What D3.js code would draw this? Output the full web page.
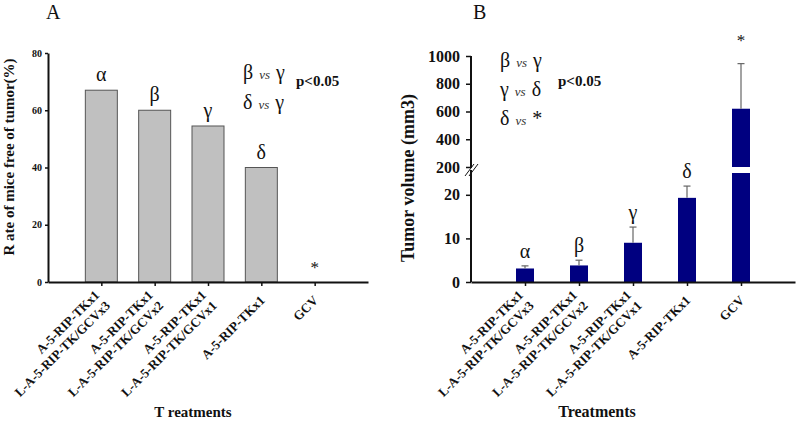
<!DOCTYPE html>
<html>
<head>
<meta charset="utf-8">
<script src="https://cdn.jsdelivr.net/npm/d3@7"></script>
<style>
  html, body { margin: 0; padding: 0; background: #fff; }
  svg { display: block; }
  text { font-family: "Liberation Serif", "Times New Roman", serif; fill: #111; }
</style>
</head>
<body>
<svg id="chart" width="800" height="426"></svg>
<script>
// ---- data ----
const categories = [
  "A-5-RIP-TKx1\nL-A-5-RIP-TK/GCVx3",
  "A-5-RIP-TKx1\nL-A-5-RIP-TK/GCVx2",
  "A-5-RIP-TKx1\nL-A-5-RIP-TK/GCVx1",
  "A-5-RIP-TKx1",
  "GCV"
];
const rateFree = [67, 60, 54.5, 40, 0];
const volume = [3.1, 3.8, 9.0, 19.3, 620];
const volumeErr = [0.6, 1.2, 3.6, 2.7, 325];
const sigLabels = ["α", "β", "γ", "δ", "*"];
const ticksA = [0, 20, 40, 60, 80];
const ticksBLow = [0, 10, 20];
const ticksBHigh = [200, 400, 600, 800, 1000];
const compA = [["β", "γ"], ["δ", "γ"]];
const compB = [["β", "γ"], ["γ", "δ"], ["δ", "*"]];
const pText = "p<0.05";

const svg = d3.select("#chart");

function styleAxis(g, fs) {
  g.attr("font-family", null).attr("font-size", null);
  g.select(".domain").attr("stroke", "#111").attr("stroke-width", 2);
  g.selectAll(".tick line").attr("stroke", "#111").attr("stroke-width", 1.5);
  g.selectAll(".tick text").style("font-family", "'Liberation Serif', serif").style("font-weight", "bold")
    .style("font-size", fs + "px").attr("fill", "#111");
}

function catLabels(g, x, oy) {
  categories.forEach(c => {
    const lines = c.split("\n");
    const t = g.append("g").attr("transform", `translate(${x(c) + 1},${oy}) rotate(-45)`);
    lines.forEach((ln, i) => {
      t.append("text").attr("x", 0).attr("y", (i - (lines.length - 1) / 2) * 15 + 4.5)
        .attr("text-anchor", "end").attr("font-weight", "bold").attr("font-size", 13)
        .text(ln);
    });
  });
}

function comparisons(g, list, x0, y0, dy, fs) {
  list.forEach((pair, i) => {
    const t = g.append("text").attr("x", x0).attr("y", y0 + i * dy).attr("font-size", fs);
    t.append("tspan").text(pair[0]);
    t.append("tspan").attr("dx", 6).attr("font-style", "italic").attr("font-size", 13).attr("fill", "#333").text("vs");
    t.append("tspan").attr("dx", 6).text(pair[1]);
  });
}

// ================= Panel A =================
{
  const g = svg.append("g");
  const x = d3.scalePoint().domain(categories).range([48, 368]).padding(1);
  const y = d3.scaleLinear().domain([0, 80]).range([282, 53]);
  const bw = 32;

  g.selectAll("rect.barA").data(categories).enter().append("rect")
    .attr("class", "barA")
    .attr("x", d => x(d) - bw / 2)
    .attr("y", (d, i) => y(rateFree[i]))
    .attr("width", bw)
    .attr("height", (d, i) => y(0) - y(rateFree[i]))
    .attr("fill", "#c0c0c0").attr("stroke", "#555").attr("stroke-width", 1);

  const ya = g.append("g").attr("transform", "translate(48,0)")
    .call(d3.axisLeft(y).tickValues(ticksA).tickSize(3).tickPadding(3).tickSizeOuter(0));
  styleAxis(ya, 10);

  const xa = g.append("g").attr("transform", "translate(0,282)")
    .call(d3.axisBottom(x).tickSize(4).tickSizeOuter(0).tickFormat(""));
  styleAxis(xa, 10);

  catLabels(g, x, 298);

  g.selectAll("text.sigA").data(categories).enter().append("text")
    .attr("class", "sigA")
    .attr("x", d => x(d))
    .attr("y", (d, i) => y(rateFree[i]) - 9)
    .attr("text-anchor", "middle")
    .attr("font-size", (d, i) => sigLabels[i] === "*" ? 17 : 20)
    .attr("fill", (d, i) => sigLabels[i] === "*" ? "#444" : "#111")
    .text((d, i) => sigLabels[i]);

  comparisons(g, compA, 243, 79, 30, 20);
  g.append("text").attr("x", 296).attr("y", 86).attr("font-weight", "bold").attr("font-size", 15).text(pText);

  g.append("text").attr("x", 46).attr("y", 19).attr("font-size", 20).text("A");
  g.append("text").attr("transform", "translate(14,157) rotate(-90)")
    .attr("text-anchor", "middle").attr("font-weight", "bold").attr("font-size", 15)
    .text("R ate of mice free of tumor(%)");
  g.append("text").attr("x", 193).attr("y", 417).attr("text-anchor", "middle")
    .attr("font-weight", "bold").attr("font-size", 15).text("T reatments");
}

// ================= Panel B =================
{
  const g = svg.append("g");
  const x = d3.scalePoint().domain(categories).range([471, 795]).padding(1);
  const yLow = d3.scaleLinear().domain([0, 25]).range([282, 173]);
  const yHigh = d3.scaleLinear().domain([200, 1000]).range([167, 56]);
  const lowMax = 25;
  const bw = 18;
  const yOf = v => v <= lowMax ? yLow(v) : yHigh(v);

  g.selectAll("rect.barLow").data(categories).enter().append("rect")
    .attr("class", "barLow")
    .attr("x", d => x(d) - bw / 2)
    .attr("y", (d, i) => yLow(Math.min(volume[i], lowMax)))
    .attr("width", bw)
    .attr("height", (d, i) => yLow(0) - yLow(Math.min(volume[i], lowMax)))
    .attr("fill", "#000080");
  const hi = categories.filter((d, i) => volume[i] > lowMax);
  g.selectAll("rect.barHigh").data(hi).enter().append("rect")
    .attr("class", "barHigh")
    .attr("x", d => x(d) - bw / 2)
    .attr("y", d => yHigh(volume[categories.indexOf(d)]))
    .attr("width", bw)
    .attr("height", d => yHigh(200) - yHigh(volume[categories.indexOf(d)]))
    .attr("fill", "#000080");

  categories.forEach((c, i) => {
    const top = yOf(volume[i] + volumeErr[i]);
    const base = yOf(volume[i]);
    g.append("line").attr("x1", x(c)).attr("x2", x(c)).attr("y1", base).attr("y2", top)
      .attr("stroke", "#666").attr("stroke-width", 1.2);
    g.append("line").attr("x1", x(c) - 3.5).attr("x2", x(c) + 3.5).attr("y1", top).attr("y2", top)
      .attr("stroke", "#666").attr("stroke-width", 1.2);
  });

  const fmt = d3.format("d");
  const yl = g.append("g").attr("transform", "translate(471,0)")
    .call(d3.axisLeft(yLow).tickValues(ticksBLow).tickFormat(fmt).tickSize(5).tickPadding(6).tickSizeOuter(0));
  styleAxis(yl, 16);
  yl.select(".domain").attr("d", `M0,${yLow(0)}V${yLow(lowMax) - 3}`);
  const yh = g.append("g").attr("transform", "translate(471,0)")
    .call(d3.axisLeft(yHigh).tickValues(ticksBHigh).tickFormat(fmt).tickSize(5).tickPadding(6).tickSizeOuter(0));
  styleAxis(yh, 16);
  yh.select(".domain").attr("d", `M0,${yHigh(1000)}V${yHigh(200) + 1}`);

  [0, 4].forEach(off => {
    g.append("line").attr("x1", 465 + off).attr("y1", 176).attr("x2", 474 + off).attr("y2", 164)
      .attr("stroke", "#111").attr("stroke-width", 1);
  });

  const xa = g.append("g").attr("transform", "translate(0,282)")
    .call(d3.axisBottom(x).tickSize(4).tickSizeOuter(0).tickFormat(""));
  styleAxis(xa, 10);

  catLabels(g, x, 298);

  g.selectAll("text.sigB").data(categories).enter().append("text")
    .attr("class", "sigB")
    .attr("x", d => x(d))
    .attr("y", (d, i) => yOf(volume[i] + volumeErr[i]) - (sigLabels[i] === "*" ? 18 : 8))
    .attr("text-anchor", "middle")
    .attr("font-size", (d, i) => sigLabels[i] === "*" ? 17 : 20)
    .attr("fill", (d, i) => sigLabels[i] === "*" ? "#444" : "#111")
    .text((d, i) => sigLabels[i]);

  comparisons(g, compB, 500, 67, 29, 20);
  g.append("text").attr("x", 558).attr("y", 86).attr("font-weight", "bold").attr("font-size", 15).text(pText);

  g.append("text").attr("x", 473).attr("y", 19).attr("font-size", 20).text("B");
  g.append("text").attr("transform", "translate(414,178) rotate(-90)")
    .attr("text-anchor", "middle").attr("font-weight", "bold").attr("font-size", 18)
    .text("Tumor volume (mm3)");
  g.append("text").attr("x", 597).attr("y", 417).attr("text-anchor", "middle")
    .attr("font-weight", "bold").attr("font-size", 16).text("Treatments");
}
</script>
</body>
</html>
